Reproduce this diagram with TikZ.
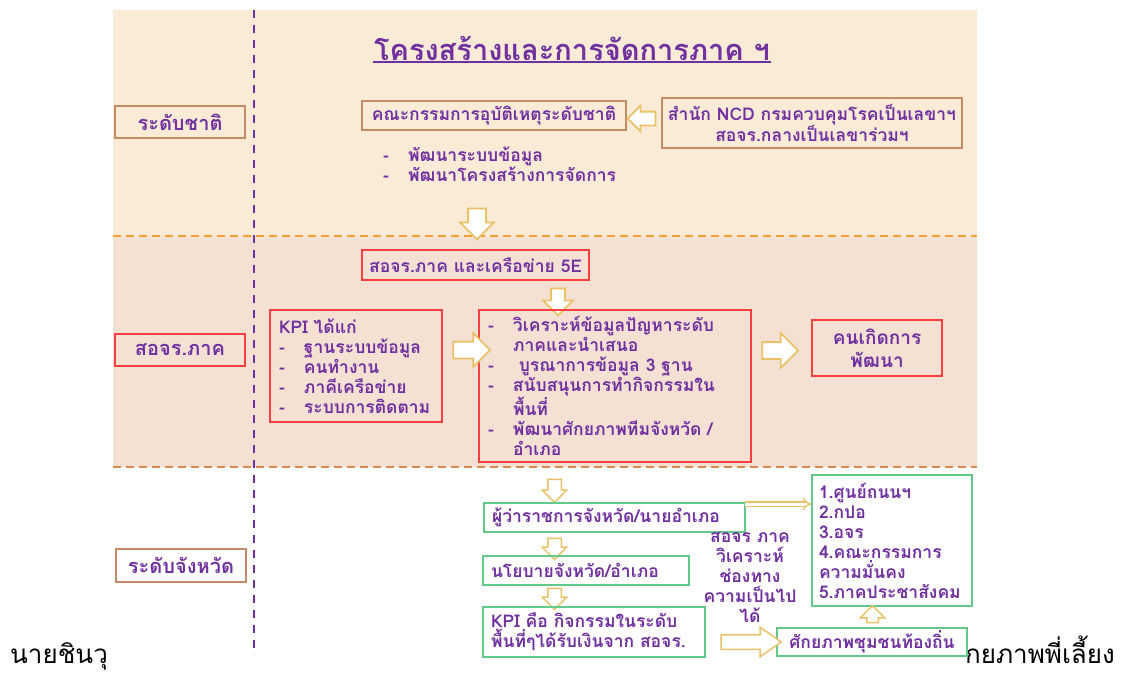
\documentclass[tikz,border=0pt]{standalone}
\usepackage{fontspec}
\newfontfamily\thaifont[Script=Thai]{Loma}
\usetikzlibrary{shapes.arrows,arrows.meta}

\definecolor{txtpurple}{HTML}{7030A0}
\definecolor{bandtop}{HTML}{FAEBD7}
\definecolor{bandmid}{HTML}{F4E1D3}
\definecolor{dashorange}{HTML}{F0A030}
\definecolor{dashbrown}{HTML}{D98A4C}
\definecolor{boxbrown}{HTML}{C58B67}
\definecolor{boxred}{HTML}{FF4040}
\definecolor{boxgreen}{HTML}{62C98A}
\definecolor{arrowgold}{HTML}{E9C166}

\newcommand{\dashitem}[1]{\makebox[25pt][l]{-}#1}
\newcommand{\contitem}[1]{\hspace*{25pt}#1}

\tikzset{
	thaitext/.style={font=\thaifont\bfseries\fontsize{17.5}{20}\selectfont, text=txtpurple},
	box/.style={thaitext, draw, line width=1.2pt, inner xsep=4pt, inner ysep=2pt},
	brownbox/.style={box, draw=boxbrown},
	redbox/.style={box, draw=boxred},
	greenbox/.style={box, draw=boxgreen},
	levelbox/.style={minimum width=130pt, minimum height=32pt, font=\thaifont\bfseries\fontsize{20}{24}\selectfont},
	listbox/.style={align=left, text width=#1},
	barrow/.style n args={3}{single arrow, draw=arrowgold, fill=white, line width=1.8pt,
		minimum height=#1, inner xsep=0pt, inner ysep=#2, single arrow head extend=#3},
}

\begin{document}
\begin{tikzpicture}[x=1pt,y=-1pt]
	\fill[white] (0,0) rectangle (1130,675);
	\useasboundingbox (0,0) rectangle (1130,675);

	% bands
	\fill[bandtop] (113,10) rectangle (977,236);
	\fill[bandmid] (113,236) rectangle (977,467);
	\draw[dashorange, line width=2.2pt, dash pattern=on 8pt off 5pt] (113,236) -- (977,236);
	\draw[dashbrown, line width=2.2pt, dash pattern=on 8pt off 5pt] (113,467) -- (977,467);
	\draw[txtpurple, line width=2pt, dash pattern=on 8pt off 7pt] (254,10) -- (254,655);

	% text under the picture
	\node[anchor=base west, inner sep=0pt, font=\thaifont\fontsize{26}{30}\selectfont] (NOTEL) at (10,663) {นายชินวุ};
	\node[anchor=base east, inner sep=0pt, font=\thaifont\fontsize{26}{30}\selectfont] (NOTER) at (1115,663) {กยภาพพี่เลี้ยง};

	% national level
	\node[thaitext, font=\thaifont\bfseries\fontsize{29}{32}\selectfont, inner sep=1pt] (TITLE) at (572,48) {โครงสร้างและการจัดการภาค ฯ};
	\draw[txtpurple, line width=1.8pt] ([yshift=-1pt]TITLE.south west) -- ([yshift=-1pt]TITLE.south east);
	\node[brownbox, levelbox] (NAT) at (180,122) {ระดับชาติ};
	\node[brownbox, minimum width=264pt, minimum height=29pt] (CMTE) at (494,115.5) {คณะกรรมการอุบัติเหตุระดับชาติ};
	\node[brownbox, minimum width=300pt, minimum height=50pt, align=center] (NCD) at (812,123)
		{สำนัก NCD กรมควบคุมโรคเป็นเลขาฯ\\สอจร.กลางเป็นเลขาร่วมฯ};
	\node[barrow={28pt}{6pt}{6pt}, rotate=180] (A1) at (645,118.5) {};
	\node[thaitext, anchor=north west, inner sep=0pt, listbox=250pt] (DEVLIST) at (383,147)
		{\dashitem{พัฒนาระบบข้อมูล}\\\dashitem{พัฒนาโครงสร้างการจัดการ}};
	\node[barrow={31pt}{8pt}{8pt}, rotate=-90] (A2) at (477,219.5) {};

	% regional level
	\node[redbox, levelbox] (REG) at (180,350) {สอจร.ภาค};
	\node[redbox, minimum width=227pt, minimum height=30pt] (NET) at (475.5,265) {สอจร.ภาค และเครือข่าย 5E};
	\node[barrow={27pt}{6pt}{8pt}, rotate=-90] (A3) at (558,298.5) {};
	\node[redbox, minimum width=172pt, minimum height=112pt, listbox=154pt] (KPI) at (356,366)
		{KPI ได้แก่\\\dashitem{ฐานระบบข้อมูล}\\\dashitem{คนทำงาน}\\\dashitem{ภาคีเครือข่าย}\\\dashitem{ระบบการติดตาม}};
	\node[redbox, minimum width=272pt, minimum height=152pt, listbox=254pt] (TASK) at (615,386)
		{\dashitem{วิเคราะห์ข้อมูลปัญหาระดับ}\\\contitem{ภาคและนำเสนอ}\\\dashitem{ บูรณาการข้อมูล 3 ฐาน}\\
		 \dashitem{สนับสนุนการทำกิจกรรมใน}\\\contitem{พื้นที่}\\\dashitem{พัฒนาศักยภาพทีมจังหวัด /}\\\contitem{อำเภอ}};
	\node[barrow={37pt}{7.5pt}{8.5pt}] (A4) at (467.5,350) {};
	\node[barrow={36pt}{7.5pt}{9pt}] (A5) at (776,350.5) {};
	\node[redbox, minimum width=130pt, minimum height=56pt, align=center,
		font=\thaifont\bfseries\fontsize{19}{23}\selectfont] (DEV) at (877,348) {คนเกิดการ\\พัฒนา};

	% provincial level
	\node[brownbox, levelbox, minimum height=33pt] (PROV) at (181,565.5) {ระดับจังหวัด};
	\node[barrow={23pt}{6pt}{5.5pt}, line width=1.5pt, rotate=-90] (A6) at (554.5,487.5) {};
	\node[greenbox, minimum width=261pt, minimum height=29pt, listbox=245pt] (GOV) at (614.5,517.5) {ผู้ว่าราชการจังหวัด/นายอำเภอ};
	\node[barrow={21pt}{6pt}{5.5pt}, line width=1.5pt, rotate=-90] (A7) at (554.5,545.5) {};
	\node[greenbox, minimum width=206pt, minimum height=29pt, listbox=190pt] (POL) at (586,570.5) {นโยบายจังหวัด/อำเภอ};
	\node[barrow={21pt}{6pt}{5.5pt}, line width=1.5pt, rotate=-90] (A8) at (554.5,595.5) {};
	\node[greenbox, minimum width=222pt, minimum height=50pt, listbox=206pt] (KPIB) at (594,632)
		{KPI คือ กิจกรรมในระดับ\\พื้นที่ๆได้รับเงินจาก สอจร.};
	\node[greenbox, minimum width=160pt, minimum height=131pt, listbox=146pt] (ORGS) at (892,540.5)
		{1.ศูนย์ถนนฯ\\2.กปอ\\3.อจร\\4.คณะกรรมการ\\ความมั่นคง\\5.ภาคประชาสังคม};
	\node[greenbox, minimum width=190pt, minimum height=28pt] (COMM) at (872,642) {ศักยภาพชุมชนท้องถิ่น};
	\node[thaitext, align=center, inner sep=0pt] (ANA) at (750,577) {สอจร ภาค\\วิเคราะห์\\ช่องทาง\\ความเป็นไป\\ได้};
	\coordinate (GOVOUT) at (745,504);
	\draw[arrowgold, line width=1.3pt, double=white, double distance=3pt, -{Implies}] (GOVOUT) -- (ORGS.west |- GOVOUT);
	\node[barrow={60pt}{6.5pt}{7.5pt}, single arrow tip angle=70, line width=1.5pt] (A9) at (746,642) {};
	\node[barrow={17pt}{5pt}{6.5pt}, line width=1.5pt, rotate=90] (A10) at (872.5,617) {};
\end{tikzpicture}
\end{document}
